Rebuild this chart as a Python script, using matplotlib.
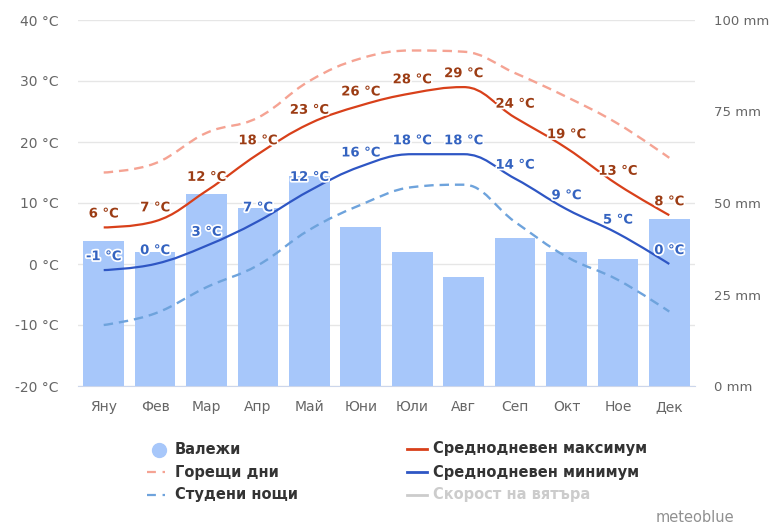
import numpy as np
import matplotlib
matplotlib.use("Agg")
from matplotlib import pyplot as plt
from matplotlib.path import Path
from matplotlib.patches import PathPatch
from matplotlib.lines import Line2D
import matplotlib.patheffects as pe

months = ['Яну', 'Фев', 'Мар', 'Апр', 'Май', 'Юни', 'Юли', 'Авг', 'Сеп', 'Окт', 'Ное', 'Дек']
t_max = [6, 7, 12, 18, 23, 26, 28, 29, 24, 19, 13, 8]
t_min = [-1, 0, 3, 7, 12, 16, 18, 18, 14, 9, 5, 0]
hot_days = [15, 16.5, 21.5, 24, 30, 33.7, 35, 34.8, 31.3, 27.4, 23, 17.4]
cold_nights = [-10, -8.1, -3.8, -0.2, 5.6, 9.7, 12.6, 13, 6.9, 1.2, -2.6, -7.8]
precip = [39.5, 36.6, 52.5, 48.5, 57.4, 43.4, 36.6, 29.8, 40.5, 36.6, 34.8, 45.6]

c_max = '#d8401a'
c_min = '#2e56c4'
c_hot = '#f5a393'
c_cold = '#6ea3dc'
c_bar = '#a7c7fa'
grey = '#666666'


def spline_path(xs, ys, smoothing=1.5):
    # highcharts-like spline through the points
    n = len(xs)
    left = [(xs[i], ys[i]) for i in range(n)]
    right = [(xs[i], ys[i]) for i in range(n)]
    d = smoothing + 1
    for i in range(1, n - 1):
        x, y = xs[i], ys[i]
        lx, ly = xs[i - 1], ys[i - 1]
        nx, ny = xs[i + 1], ys[i + 1]
        lcx = (smoothing * x + lx) / d
        lcy = (smoothing * y + ly) / d
        rcx = (smoothing * x + nx) / d
        rcy = (smoothing * y + ny) / d
        corr = ((rcy - lcy) * (rcx - x)) / (rcx - lcx) + y - rcy
        lcy += corr
        rcy += corr
        if lcy > ly and lcy > y:
            lcy = max(ly, y)
            rcy = 2 * y - lcy
        elif lcy < ly and lcy < y:
            lcy = min(ly, y)
            rcy = 2 * y - lcy
        if rcy > ny and rcy > y:
            rcy = max(ny, y)
            lcy = 2 * y - rcy
        elif rcy < ny and rcy < y:
            rcy = min(ny, y)
            lcy = 2 * y - rcy
        left[i] = (lcx, lcy)
        right[i] = (rcx, rcy)
    verts = [(xs[0], ys[0])]
    codes = [Path.MOVETO]
    for i in range(1, n):
        verts += [right[i - 1], left[i], (xs[i], ys[i])]
        codes += [Path.CURVE4] * 3
    return Path(verts, codes)


fig = plt.figure(figsize=(7.72, 5.25), dpi=100)
ax = fig.add_axes([78 / 772, 1 - 386 / 525, (695 - 78) / 772, 366 / 525])
axp = ax.twinx()
axl = ax.twinx()

x = np.arange(len(months))

# grid / left axis
ax.set_ylim(-20, 40)
ax.set_yticks(range(-20, 41, 10))
ax.set_yticklabels([f'{v} °C' for v in range(-20, 41, 10)])
ax.grid(axis='y', color='#e6e6e6', lw=1)
ax.set_xlim(-0.5, 11.5)
ax.set_xticks(x)
ax.set_xticklabels(months)

# precipitation bars
axp.bar(x, precip, width=0.79, color=c_bar, zorder=2)
axp.set_ylim(0, 100)
axp.set_yticks([0, 25, 50, 75, 100])
axp.set_yticklabels([f'{v} mm' for v in [0, 25, 50, 75, 100]])

# temperature lines
axl.set_ylim(-20, 40)
axl.set_yticks([])
axl.add_patch(PathPatch(spline_path(x, hot_days), fill=False, ec=c_hot, lw=1.7,
                        ls=(0, (4, 2.5))))
axl.add_patch(PathPatch(spline_path(x, cold_nights), fill=False, ec=c_cold, lw=1.7,
                        ls=(0, (4, 2.5))))
axl.add_patch(PathPatch(spline_path(x, t_max), fill=False, ec=c_max, lw=1.6))
axl.add_patch(PathPatch(spline_path(x, t_min), fill=False, ec=c_min, lw=1.6))

outline = [pe.withStroke(linewidth=2.5, foreground='white')]
for xi, v in zip(x, t_max):
    axl.annotate(f'{v} °C', (xi, v), xytext=(0, 5), textcoords='offset points',
                 ha='center', va='bottom', fontsize=9.5, fontweight='bold',
                 color='#9c3c14', path_effects=outline)
for xi, v in zip(x, t_min):
    axl.annotate(f'{v} °C', (xi, v), xytext=(0, 5), textcoords='offset points',
                 ha='center', va='bottom', fontsize=9.5, fontweight='bold',
                 color='#3463c0', path_effects=outline)

for a in (ax, axp, axl):
    for s in a.spines.values():
        s.set_visible(False)
ax.spines['bottom'].set_visible(True)
ax.spines['bottom'].set_color('#ccd6eb')
ax.tick_params(axis='both', length=0, colors=grey, labelsize=10)
ax.tick_params(axis='x', pad=10)
ax.tick_params(axis='y', pad=14)
axp.tick_params(axis='y', length=0, colors=grey, labelsize=9.5, pad=14)

# legend drawn by hand
def fx(px):
    return px / 772


def fy(py):
    return 1 - py / 525


fig.add_artist(Line2D([fx(159)], [fy(450)], marker='o', ms=10, color=c_bar, ls='none'))
fig.add_artist(Line2D([fx(147), fx(165)], [fy(472), fy(472)], color=c_hot, lw=1.6,
                      ls=(0, (4, 3))))
fig.add_artist(Line2D([fx(147), fx(165)], [fy(495), fy(495)], color=c_cold, lw=1.6,
                      ls=(0, (4, 3))))
fig.add_artist(Line2D([fx(407), fx(427)], [fy(449), fy(449)], color=c_max, lw=2))
fig.add_artist(Line2D([fx(407), fx(427)], [fy(472), fy(472)], color=c_min, lw=2))
fig.add_artist(Line2D([fx(407), fx(427)], [fy(495), fy(495)], color='#cccccc', lw=2))

leg_kw = dict(fontsize=10.5, fontweight='bold', va='center', ha='left')
fig.text(fx(175), fy(450), 'Валежи', color='#333333', **leg_kw)
fig.text(fx(175), fy(472), 'Горещи дни', color='#333333', **leg_kw)
fig.text(fx(175), fy(495), 'Студени нощи', color='#333333', **leg_kw)
fig.text(fx(433), fy(449), 'Среднодневен максимум', color='#333333', **leg_kw)
fig.text(fx(433), fy(472), 'Среднодневен минимум', color='#333333', **leg_kw)
fig.text(fx(433), fy(495), 'Скорост на вятъра', color='#cccccc', **leg_kw)
fig.text(fx(734), fy(517), 'meteoblue', color='#909090', fontsize=10.5,
         ha='right', va='center')

fig.savefig('out.png', dpi=100)
